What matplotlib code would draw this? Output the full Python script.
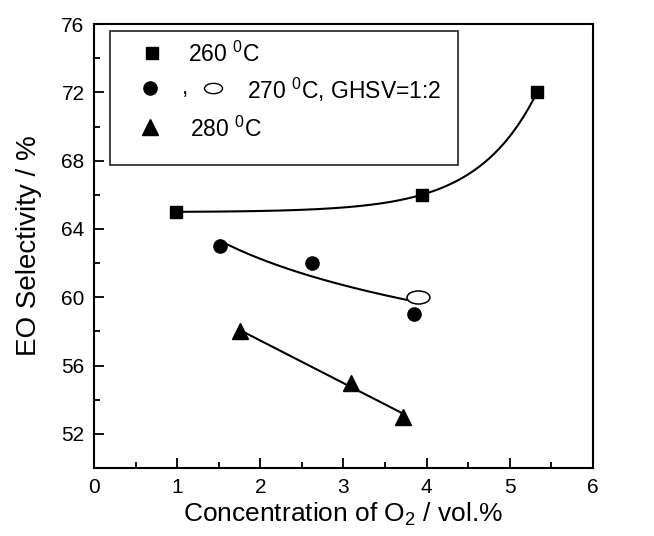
import numpy as np
import matplotlib
matplotlib.use("Agg")
import matplotlib.pyplot as plt
from matplotlib.path import Path
from matplotlib.transforms import Affine2D
from matplotlib.patches import Rectangle

plt.rcParams['font.family'] = ['Liberation Sans', 'DejaVu Sans']
plt.rcParams['mathtext.fontset'] = 'custom'
plt.rcParams['mathtext.rm'] = 'Liberation Sans'
plt.rcParams['mathtext.it'] = 'Liberation Sans:italic'

# data
x260 = [0.98, 3.94, 5.33]
y260 = [65.0, 66.0, 72.0]
x270 = [1.51, 2.62, 3.85]
y270 = [63.0, 62.0, 59.0]
x270_open = [3.90]          # GHSV=1:2 point
y270_open = [60.0]
x280 = [1.75, 3.09, 3.72]
y280 = [58.0, 55.0, 53.0]

xticks = [0, 1, 2, 3, 4, 5, 6]
yticks = [52, 56, 60, 64, 68, 72, 76]

ellipse = Path.unit_circle().transformed(Affine2D().scale(1.0, 0.57))


def exp_fit(x, y):
    # y = a + b*exp(x/t); scan t, solve a, b by least squares
    x = np.asarray(x); y = np.asarray(y)
    best = None
    for t in np.linspace(0.2, 5, 2000):
        A = np.vstack([np.ones_like(x), np.exp(x / t)]).T
        c = np.linalg.lstsq(A, y, rcond=None)[0]
        err = np.sum((A @ c - y) ** 2)
        if best is None or err < best[0]:
            best = (err, t, c)
    _, t, c = best
    return lambda xx: c[0] + c[1] * np.exp(xx / t)


fig = plt.figure(figsize=(6.54, 5.36), dpi=100)
ax = fig.add_axes([0.1442, 0.127, 0.762, 0.828])

# fitted curves
f260 = exp_fit(x260, y260)
xx = np.linspace(x260[0], x260[-1], 200)
ax.plot(xx, f260(xx), color='black', lw=1.5)

# log fit for 270 (filled + open points)
p270 = np.polyfit(np.log(x270 + x270_open), y270 + y270_open, 1)
xx = np.linspace(x270[0], 3.76, 200)
ax.plot(xx, np.polyval(p270, np.log(xx)), color='black', lw=1.5)

p280 = np.polyfit(x280, y280, 1)
xx = np.linspace(x280[0], x280[-1], 200)
ax.plot(xx, np.polyval(p280, xx), color='black', lw=1.5)

# markers
ax.plot(x260, y260, 's', color='black', ms=8.5, ls='none')
ax.plot(x270, y270, 'o', color='black', ms=9.5, ls='none')
ax.plot(x280, y280, '^', color='black', ms=11, ls='none')
ax.plot(x270_open, y270_open, marker=ellipse, ms=16.5, mfc='white', mec='black',
        mew=1.1, ls='none')

ax.set_xlim(0, 6)
ax.set_ylim(50, 76)
ax.set_xticks(xticks)
ax.set_yticks(yticks)
ax.set_xticks(np.arange(0.5, 6, 1), minor=True)
ax.set_yticks(np.arange(50, 76, 4), minor=True)
ax.tick_params(which='both', direction='in', top=False, right=False,
               labelsize=15, width=1.3)
ax.tick_params(which='major', length=7, pad=7)
ax.tick_params(which='minor', length=4)
for s in ax.spines.values():
    s.set_linewidth(1.5)

ax.set_xlabel('Concentration of O$_\\mathrm{2}$ / vol.%', fontsize=19, labelpad=3)
ax.set_ylabel('EO Selectivity / %', fontsize=20, labelpad=14)

# hand-made legend
tr = ax.transAxes
ax.add_patch(Rectangle((0.031, 0.683), 0.699, 0.302, transform=tr, fill=False,
                       lw=1.2, ec='#222222', zorder=5))
ax.plot([0.115], [0.935], 's', color='black', ms=8.5, transform=tr, clip_on=False)
ax.plot([0.112], [0.856], 'o', color='black', ms=9.5, transform=tr, clip_on=False)
ax.plot([0.112], [0.768], '^', color='black', ms=11, transform=tr, clip_on=False)
ax.text(0.176, 0.842, ',', transform=tr, fontsize=16.5, va='baseline')
ax.plot([0.239], [0.856], marker=ellipse, ms=13, mfc='white', mec='black',
        mew=1.0, transform=tr, clip_on=False)
ax.text(0.188, 0.931, '260 $^\\mathrm{0}$C', transform=tr, fontsize=16.5, va='center')
ax.text(0.306, 0.852, '270 $^\\mathrm{0}$C, GHSV=1:2', transform=tr, fontsize=16.5,
        va='center')
ax.text(0.192, 0.764, '280 $^\\mathrm{0}$C', transform=tr, fontsize=16.5, va='center')

fig.savefig('out.png', dpi=100)
